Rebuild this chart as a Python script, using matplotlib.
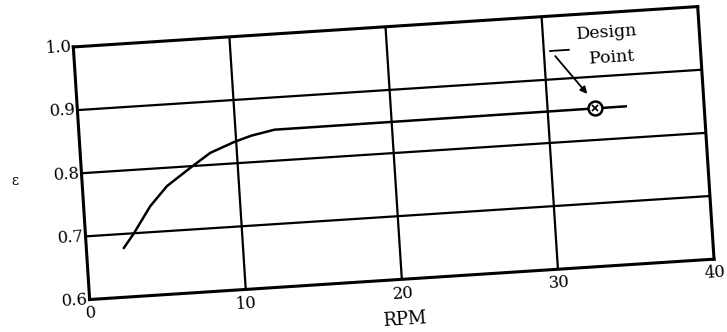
import matplotlib
matplotlib.use("Agg")
import matplotlib.pyplot as plt
from matplotlib.transforms import Affine2D
import mpl_toolkits.axisartist.floating_axes as floating_axes
from mpl_toolkits.axisartist.grid_finder import FixedLocator, DictFormatter

# values
rpm = [2.4, 3.1, 4.25, 5.4, 7.0, 8.3, 9.9, 11.0, 12.5, 35.0]
eff = [0.678, 0.700, 0.741, 0.771, 0.798, 0.819, 0.834, 0.842, 0.849, 0.850]
design_rpm = 33.0
design_eff = 0.85
x_ticks = [0, 10, 20, 30, 40]
y_ticks = [0.6, 0.7, 0.8, 0.9, 1.0]
x_labels = ["0", "10", "20", "30", "40"]
y_labels = ["0.6", "0.7", "0.8", "0.9", "1.0"]

plt.rcParams["font.family"] = "DejaVu Serif"
plt.rcParams["grid.color"] = "k"
plt.rcParams["grid.linewidth"] = 1.6
plt.rcParams["grid.alpha"] = 1.0
plt.rcParams["grid.linestyle"] = "-"

# the scan is tilted a few degrees, so use a slightly rotated axes
tilt = 3.7
tr = Affine2D().scale(15.55, 629.0).rotate_deg(tilt)
grid_helper = floating_axes.GridHelperCurveLinear(
    tr, extremes=(0, 40, 0.6, 1.0),
    grid_locator1=FixedLocator(x_ticks),
    grid_locator2=FixedLocator(y_ticks),
    tick_formatter1=DictFormatter(dict(zip(x_ticks, x_labels))),
    tick_formatter2=DictFormatter(dict(zip(y_ticks, y_labels))))

fig = plt.figure(figsize=(7.27, 3.32), dpi=100)
ax = fig.add_axes([0.092, 0.089, 0.899, 0.900],
                  axes_class=floating_axes.FloatingAxes, grid_helper=grid_helper)
ax.grid(True)
ax.axis[:].major_ticks.set_visible(False)
ax.axis[:].line.set_linewidth(2.2)
ax.axis["top"].toggle(ticklabels=False)
ax.axis["right"].toggle(ticklabels=False)
for side in ["left", "bottom"]:
    ax.axis[side].major_ticklabels.set_fontsize(12)
ax.axis["left"].major_ticklabels.set_pad(1)
ax.axis["bottom"].major_ticklabels.set_pad(4)
ax.axis["bottom"].label.set_text("RPM")
ax.axis["bottom"].label.set_fontsize(13)
ax.axis["bottom"].label.set_pad(9)
fig.text(0.021, 0.455, "ε", fontsize=10, ha="center", va="center")

aux = ax.get_aux_axes(tr)
aux.plot(rpm, eff, color="k", lw=1.8)
aux.plot(design_rpm, design_eff, marker="o", ms=10, mfc="white", mec="k", mew=1.8)
aux.plot(design_rpm, design_eff, marker="x", ms=5, color="k", mew=1.3)
aux.annotate("", xy=(32.7, 0.87), xytext=(30.6, 0.94),
             arrowprops=dict(arrowstyle="-|>", color="k", lw=1.3))
aux.plot([30.4, 31.6], [0.945, 0.945], color="k", lw=1.3)
aux.text(34.1, 0.948, "Design\n Point", ha="center", va="center",
         rotation=tilt, fontsize=12.5, linespacing=1.6)

fig.savefig("out.png", dpi=100)
